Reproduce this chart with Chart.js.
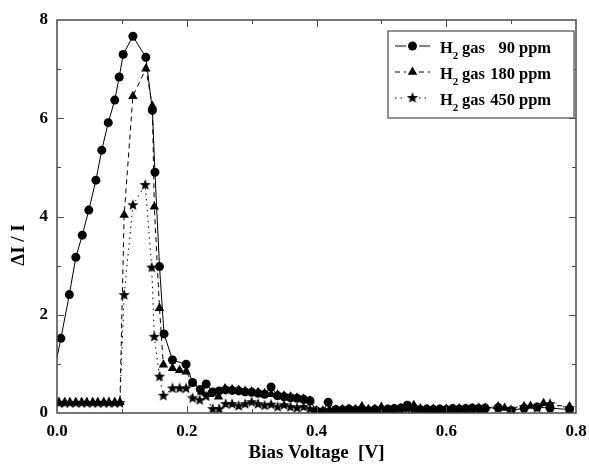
<!DOCTYPE html>
<html>
<head>
<meta charset="utf-8">
<script src="https://cdn.jsdelivr.net/npm/chart.js@4/dist/chart.umd.min.js"></script>
<style>
  body { margin: 0; background: #fff; }
  canvas { display: block; }
</style>
</head>
<body>
<canvas id="chart" width="589" height="466"></canvas>
<script>
// Data (bias voltage in V, response dI/I)
const volt90 = [-0.002, 0.006, 0.019, 0.029, 0.039, 0.049, 0.060, 0.069, 0.079, 0.089, 0.096, 0.102, 0.117, 0.137, 0.147, 0.151, 0.158, 0.165, 0.178, 0.199,
  0.209, 0.221, 0.230, 0.240, 0.250, 0.260, 0.270, 0.280, 0.290, 0.300, 0.310, 0.320, 0.330, 0.340, 0.350, 0.360, 0.370, 0.380, 0.390, 0.400,
  0.410, 0.418, 0.430, 0.440, 0.450, 0.460, 0.470, 0.480, 0.490, 0.500, 0.510, 0.520, 0.530, 0.540, 0.550, 0.560, 0.570, 0.580, 0.590, 0.600,
  0.610, 0.620, 0.630, 0.640, 0.650, 0.660, 0.680, 0.700, 0.720, 0.740, 0.760, 0.790];
const ratio90 = [1.00, 1.52, 2.41, 3.17, 3.62, 4.13, 4.74, 5.35, 5.91, 6.37, 6.84, 7.30, 7.67, 7.24, 6.16, 4.90, 2.98, 1.61, 1.08, 0.99,
  0.62, 0.48, 0.59, 0.43, 0.45, 0.47, 0.46, 0.45, 0.43, 0.42, 0.40, 0.38, 0.53, 0.35, 0.33, 0.31, 0.30, 0.28, 0.25, 0.04,
  0.03, 0.22, 0.07, 0.06, 0.08, 0.06, 0.08, 0.05, 0.07, 0.06, 0.08, 0.09, 0.10, 0.16, 0.10, 0.07, 0.08, 0.07, 0.08, 0.07,
  0.09, 0.08, 0.09, 0.10, 0.09, 0.10, 0.11, 0.05, 0.10, 0.12, 0.10, 0.07];

const volt180 = [0.003, 0.012, 0.020, 0.029, 0.038, 0.046, 0.055, 0.063, 0.072, 0.080, 0.089, 0.097,
  0.1035, 0.117, 0.137, 0.147, 0.150, 0.158, 0.164, 0.178, 0.189, 0.199, 0.209, 0.223, 0.235, 0.249, 0.259,
  0.270, 0.280, 0.290, 0.300, 0.310, 0.320, 0.330, 0.340, 0.350, 0.360, 0.370, 0.380, 0.390, 0.400, 0.410, 0.420, 0.430, 0.440, 0.450, 0.460,
  0.470, 0.480, 0.490, 0.500, 0.510, 0.520, 0.530, 0.540, 0.550, 0.560, 0.570, 0.580, 0.590, 0.600, 0.610, 0.620, 0.630, 0.640, 0.650, 0.660,
  0.680, 0.690, 0.720, 0.730, 0.750, 0.760, 0.790];
const ratio180 = [0.22, 0.22, 0.22, 0.22, 0.22, 0.22, 0.22, 0.22, 0.22, 0.22, 0.22, 0.22,
  4.03, 6.45, 7.01, 6.25, 4.20, 2.13, 0.98, 0.91, 0.87, 0.84, 0.60, 0.43, 0.38, 0.33, 0.50,
  0.48, 0.47, 0.45, 0.44, 0.42, 0.40, 0.38, 0.37, 0.35, 0.33, 0.31, 0.29, 0.25, 0.05, 0.04, 0.07, 0.06, 0.07, 0.08, 0.07,
  0.13, 0.07, 0.08, 0.12, 0.07, 0.08, 0.09, 0.10, 0.16, 0.09, 0.07, 0.08, 0.07, 0.08, 0.08, 0.09, 0.08, 0.09, 0.10, 0.10,
  0.13, 0.10, 0.13, 0.14, 0.20, 0.17, 0.13];

const volt450 = [0.003, 0.012, 0.020, 0.029, 0.038, 0.046, 0.055, 0.063, 0.072, 0.080, 0.089, 0.097,
  0.1035, 0.117, 0.136, 0.146, 0.150, 0.158, 0.164, 0.178, 0.189, 0.199, 0.209, 0.220, 0.230,
  0.240, 0.250, 0.260, 0.270, 0.280, 0.290, 0.300, 0.310, 0.320, 0.330, 0.340, 0.350, 0.360, 0.370, 0.380, 0.390,
  0.400, 0.410, 0.420, 0.430, 0.440, 0.450, 0.460, 0.470, 0.480, 0.490, 0.500, 0.510, 0.520, 0.530, 0.540, 0.550,
  0.560, 0.570, 0.580, 0.590, 0.600, 0.610, 0.620, 0.630, 0.640, 0.650, 0.660,
  0.680, 0.700, 0.720, 0.740, 0.760, 0.790];
const ratio450 = [0.20, 0.20, 0.20, 0.20, 0.20, 0.20, 0.20, 0.20, 0.20, 0.20, 0.20, 0.20,
  2.40, 4.23, 4.64, 2.96, 1.55, 0.74, 0.35, 0.50, 0.50, 0.50, 0.30, 0.26, 0.34,
  0.08, 0.08, 0.18, 0.18, 0.14, 0.18, 0.22, 0.18, 0.15, 0.17, 0.12, 0.16, 0.12, 0.10, 0.12, 0.08,
  0.03, 0.04, 0.05, 0.04, 0.06, 0.05, 0.06, 0.05, 0.06, 0.05, 0.06, 0.05, 0.06, 0.07, 0.08, 0.07,
  0.06, 0.05, 0.06, 0.05, 0.06, 0.05, 0.06, 0.07, 0.06, 0.07, 0.07,
  0.10, 0.06, 0.12, 0.10, 0.18, 0.10];

const seriesLabels = ['90', '180', '450'];
const xTicks = [0.0, 0.2, 0.4, 0.6, 0.8];
const xMinor = [0.1, 0.3, 0.5, 0.7];
const yTicks = [0, 2, 4, 6, 8];
const yMinor = [1, 3, 5, 7];

const FONT = '"Liberation Serif", "Times New Roman", serif';
const FRAME = '#4a4a4a';

// filled five-point star used as a point style
function makeStar(r) {
  const c = document.createElement('canvas');
  const s = Math.ceil(r * 2 + 2);
  c.width = s; c.height = s;
  const g = c.getContext('2d');
  g.fillStyle = '#000';
  g.beginPath();
  for (let i = 0; i < 10; i++) {
    const rad = i % 2 === 0 ? r : r * 0.42;
    const a = -Math.PI / 2 + i * Math.PI / 5;
    const px = s / 2 + rad * Math.cos(a), py = s / 2 + rad * Math.sin(a);
    if (i === 0) g.moveTo(px, py); else g.lineTo(px, py);
  }
  g.closePath();
  g.fill();
  return c;
}
const starImg = makeStar(6);

function pairs(xs, ys) {
  return xs.map((x, i) => ({ x: x, y: ys[i] }));
}

// Frame, inward ticks, y title and legend box
const decorPlugin = {
  id: 'decor',
  afterDraw(chart) {
    const { ctx, chartArea: a, scales } = chart;
    const xs = scales.x, ys = scales.y;
    ctx.save();
    ctx.strokeStyle = FRAME;
    ctx.lineWidth = 1.5;
    ctx.strokeRect(a.left, a.top, a.right - a.left, a.bottom - a.top);

    ctx.lineWidth = 1;
    ctx.beginPath();
    const xt = (v, len) => {
      const p = Math.round(xs.getPixelForValue(v)) + 0.5;
      ctx.moveTo(p, a.bottom); ctx.lineTo(p, a.bottom - len);
      ctx.moveTo(p, a.top); ctx.lineTo(p, a.top + len);
    };
    const yt = (v, len) => {
      const p = Math.round(ys.getPixelForValue(v)) + 0.5;
      ctx.moveTo(a.left, p); ctx.lineTo(a.left + len, p);
      ctx.moveTo(a.right, p); ctx.lineTo(a.right - len, p);
    };
    xTicks.slice(1, -1).forEach(v => xt(v, 7));
    xMinor.forEach(v => xt(v, 4));
    yTicks.slice(1, -1).forEach(v => yt(v, 7));
    yMinor.forEach(v => yt(v, 4));
    ctx.stroke();

    // y axis title
    ctx.fillStyle = '#000';
    ctx.font = 'bold 19px ' + FONT;
    ctx.textAlign = 'center';
    ctx.textBaseline = 'middle';
    ctx.save();
    ctx.translate(19, 245);
    ctx.rotate(-Math.PI / 2);
    ctx.fillText('\u0394I / I', 0, 0);
    ctx.restore();

    // legend
    const bx = 388, by = 31, bw = 186, bh = 87;
    ctx.fillStyle = '#fff';
    ctx.fillRect(bx, by, bw, bh);
    ctx.strokeStyle = FRAME;
    ctx.lineWidth = 1.2;
    ctx.strokeRect(bx, by, bw, bh);

    const rows = [46, 72, 98];
    const dashes = [[], [5, 4], [1.5, 4]];
    const styles = ['circle', 'triangle', starImg];
    const radii = [4.5, 5.5, 6];
    rows.forEach((cy, i) => {
      ctx.strokeStyle = '#000';
      ctx.lineWidth = 1;
      ctx.setLineDash(dashes[i]);
      ctx.beginPath();
      ctx.moveTo(395, cy); ctx.lineTo(406, cy);
      ctx.moveTo(419, cy); ctx.lineTo(430, cy);
      ctx.stroke();
      ctx.setLineDash([]);
      ctx.fillStyle = '#000';
      Chart.helpers.drawPoint(ctx, { pointStyle: styles[i], radius: radii[i], rotation: 0, borderWidth: 0 }, 412.5, cy);

      const base = cy + 7;
      ctx.textAlign = 'left';
      ctx.textBaseline = 'alphabetic';
      ctx.font = 'bold 16.5px ' + FONT;
      ctx.fillText('H', 440, base);
      const hw = ctx.measureText('H').width;
      ctx.font = 'bold 11px ' + FONT;
      ctx.fillText('2', 440 + hw, base + 6);
      ctx.font = 'bold 16.5px ' + FONT;
      ctx.fillText('gas', 462, base);
      ctx.textAlign = 'right';
      ctx.fillText(seriesLabels[i], 515, base);
      ctx.textAlign = 'left';
      ctx.fillText('ppm', 519, base);
    });
    ctx.restore();
  }
};

const ctx = document.getElementById('chart').getContext('2d');
new Chart(ctx, {
  type: 'line',
  data: {
    datasets: [
      {
        label: 'H2 gas 90 ppm',
        data: pairs(volt90, ratio90),
        borderColor: '#000',
        backgroundColor: '#000',
        borderWidth: 1,
        pointStyle: 'circle',
        pointRadius: c => (c.raw && c.raw.x < 0 ? 0 : 4.5),
        pointBorderWidth: 0
      },
      {
        label: 'H2 gas 180 ppm',
        data: pairs(volt180, ratio180),
        borderColor: '#000',
        backgroundColor: '#000',
        borderWidth: 1,
        borderDash: [5, 4],
        pointStyle: 'triangle',
        pointRadius: 5.5,
        pointBorderWidth: 0
      },
      {
        label: 'H2 gas 450 ppm',
        data: pairs(volt450, ratio450),
        borderColor: '#000',
        backgroundColor: '#000',
        borderWidth: 1,
        borderDash: [1.5, 4],
        pointStyle: starImg,
        pointRadius: 6
      }
    ]
  },
  options: {
    responsive: false,
    animation: false,
    layout: { padding: { left: 0, right: 13, top: 20, bottom: 0 } },
    plugins: {
      legend: { display: false },
      tooltip: { enabled: false }
    },
    scales: {
      x: {
        type: 'linear',
        min: 0,
        max: 0.8,
        afterFit: s => { s.height = 53; s.paddingLeft = 0; s.paddingRight = 0; },
        afterBuildTicks: s => { s.ticks = xTicks.map(v => ({ value: v })); },
        grid: { display: false, drawTicks: false },
        border: { display: false },
        ticks: {
          padding: 8,
          color: '#000',
          font: { family: FONT, size: 17, weight: 'bold' },
          callback: v => Number(v).toFixed(1)
        },
        title: {
          display: true,
          text: 'Bias Voltage  [V]',
          color: '#000',
          font: { family: FONT, size: 19, weight: 'bold' },
          padding: { top: 0, bottom: 2 }
        }
      },
      y: {
        type: 'linear',
        min: 0,
        max: 8,
        afterFit: s => { s.width = 57; s.paddingTop = 0; s.paddingBottom = 0; },
        afterBuildTicks: s => { s.ticks = yTicks.map(v => ({ value: v })); },
        grid: { display: false, drawTicks: false },
        border: { display: false },
        ticks: {
          padding: 9,
          color: '#000',
          font: { family: FONT, size: 17, weight: 'bold' }
        }
      }
    }
  },
  plugins: [decorPlugin]
});
</script>
</body>
</html>
